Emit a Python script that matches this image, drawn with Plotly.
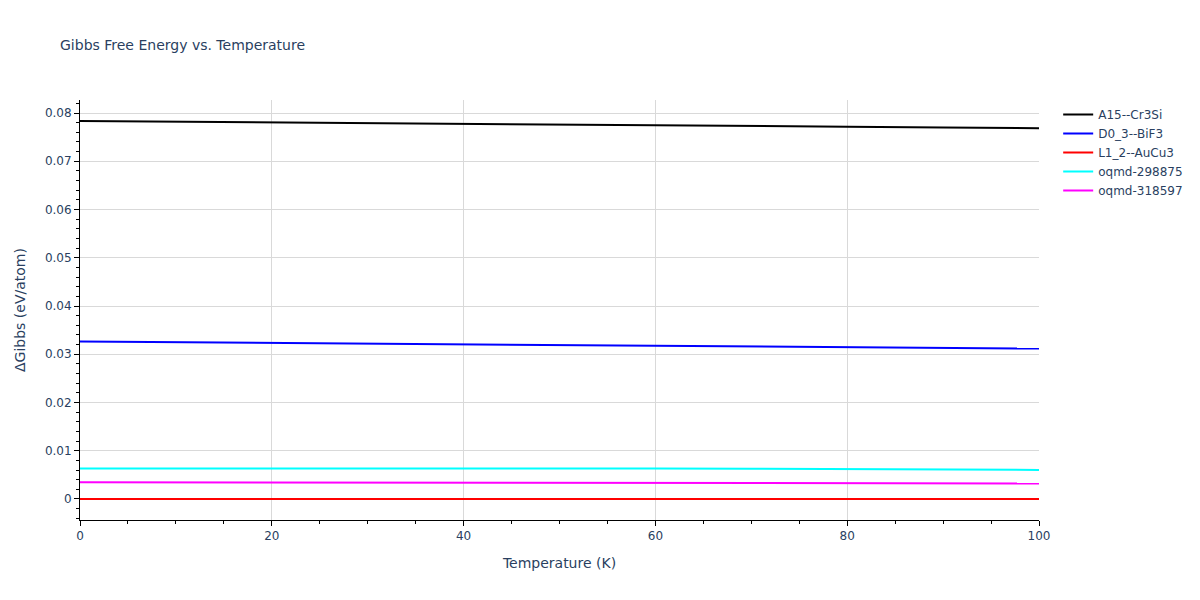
import plotly.graph_objects as go

temperature = [0, 10, 20, 30, 40, 50, 60, 70, 80, 90, 100]

names = ["A15--Cr3Si", "D0_3--BiF3", "L1_2--AuCu3", "oqmd-298875", "oqmd-318597"]
colors = ["black", "blue", "red", "cyan", "magenta"]

a15_cr3si = [0.07835, 0.07822, 0.07808, 0.07794, 0.07779, 0.07764, 0.07749, 0.07733, 0.07717, 0.07701, 0.07687]
d03_bif3 = [0.03263, 0.03250, 0.03236, 0.03222, 0.03208, 0.03194, 0.03179, 0.03164, 0.03148, 0.03132, 0.03117]
l12_aucu3 = [0, 0, 0, 0, 0, 0, 0, 0, 0, 0, 0]
oqmd_298875 = [0.00634, 0.00636, 0.00637, 0.00638, 0.00639, 0.00638, 0.00633, 0.00626, 0.00618, 0.00610, 0.00603]
oqmd_318597 = [0.00345, 0.00343, 0.00341, 0.00339, 0.00337, 0.00334, 0.00332, 0.00330, 0.00327, 0.00325, 0.00322]

series = [a15_cr3si, d03_bif3, l12_aucu3, oqmd_298875, oqmd_318597]

fig = go.Figure()
for name, color, values in zip(names, colors, series):
    fig.add_trace(go.Scatter(
        x=temperature, y=values,
        mode="lines", name=name,
        line=dict(color=color, width=2),
    ))

fig.update_layout(
    title=dict(text="Gibbs Free Energy vs. Temperature", font=dict(size=14)),
    template="plotly_white",
    font=dict(family="Verdana, DejaVu Sans, sans-serif", size=12),
    width=1200,
    height=600,
    xaxis=dict(
        title="Temperature (K)",
        range=[0, 100],
        showline=True, linecolor="black", linewidth=1,
        gridcolor="#d9d9d9",
        ticks="outside", tickcolor="black", dtick=20,
        minor=dict(ticks="outside", dtick=5, tickcolor="black", showgrid=False),
        zeroline=False,
    ),
    yaxis=dict(
        title="ΔGibbs (eV/atom)",
        range=[-0.00436, 0.0827],
        showline=True, linecolor="black", linewidth=1,
        gridcolor="#d9d9d9",
        ticks="outside", tickcolor="black", dtick=0.01,
        minor=dict(ticks="outside", dtick=0.002, tickcolor="black", showgrid=False),
        zeroline=False,
    ),
)

# figure sits flush with the page corner, no modebar
fig.write_html(
    "out.html",
    config={"displayModeBar": False},
    post_script="document.body.style.margin = '0';",
)
